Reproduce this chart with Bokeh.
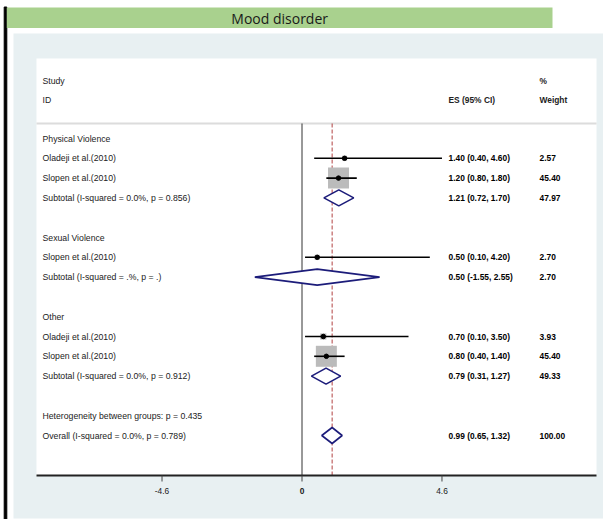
from bokeh.plotting import figure
from bokeh.models import Range1d
from bokeh.core.properties import value
from bokeh.embed import file_html
from bokeh.resources import INLINE

# ---- data ----
title = "Mood disorder"
groups = ["Physical Violence", "Sexual Violence", "Other"]
study_names = ["Oladeji et al.(2010)", "Slopen et al.(2010)",
               "Slopen et al.(2010)",
               "Oladeji et al.(2010)", "Slopen et al.(2010)"]
study_group = [0, 0, 1, 2, 2]
study_es = [1.40, 1.20, 0.50, 0.70, 0.80]
study_lo = [0.40, 0.80, 0.10, 0.10, 0.40]
study_hi = [4.60, 1.80, 4.20, 3.50, 1.40]
study_wt = [2.57, 45.40, 2.70, 3.93, 45.40]

sub_labels = ["Subtotal  (I-squared = 0.0%, p = 0.856)",
              "Subtotal  (I-squared = .%, p = .)",
              "Subtotal  (I-squared = 0.0%, p = 0.912)"]
sub_es = [1.21, 0.50, 0.79]
sub_lo = [0.72, -1.55, 0.31]
sub_hi = [1.70, 2.55, 1.27]
sub_wt = [47.97, 2.70, 49.33]

het_label = "Heterogeneity between groups: p = 0.435"
overall_label = "Overall  (I-squared = 0.0%, p = 0.789)"
overall_es, overall_lo, overall_hi, overall_wt = 0.99, 0.65, 1.32, 100.00

tick_values = [-4.6, 0.0, 4.6]
tick_labels = ["-4.6", "0", "4.6"]

# ---- layout (pixels) ----
W, H = 603, 519
X0_PX, PX_PER_UNIT = 301.5, 30.43      # where ES = 0 sits, and scale
ROW0, ROW_H = 138.0, 19.8              # first table row and row pitch
PANEL_L, PANEL_R, PANEL_T, PANEL_B = 36, 596, 58, 475
SEP_Y = 123
LABEL_X, ES_X, WT_X = 42, 448, 539
FONT = value("Liberation Sans")
FS_LABEL = "8.7px"
FS_VALUE = "8.4px"
TXT = "#222222"


def xd(px):
    """pixel column -> effect-size data units"""
    return (px - X0_PX) / PX_PER_UNIT


def fmt_ci(e, l, h):
    return f"{e:.2f} ({l:.2f}, {h:.2f})"


# build the table rows
rows = []  # (kind, label, es, lo, hi, wt)
for g, gname in enumerate(groups):
    rows.append(("group", gname, None, None, None, None))
    for i, sg in enumerate(study_group):
        if sg == g:
            rows.append(("study", study_names[i], study_es[i], study_lo[i],
                         study_hi[i], study_wt[i]))
    rows.append(("sub", sub_labels[g], sub_es[g], sub_lo[g], sub_hi[g], sub_wt[g]))
    rows.append(("blank", "", None, None, None, None))
rows.append(("group", het_label, None, None, None, None))
rows.append(("overall", overall_label, overall_es, overall_lo, overall_hi, overall_wt))
row_y = [ROW0 + i * ROW_H for i in range(len(rows))]

p = figure(width=W, height=H, x_range=Range1d(xd(0), xd(W)),
           y_range=Range1d(H, 0), x_axis_type=None, y_axis_type=None,
           min_border=0, toolbar_location=None, output_backend="svg")
p.grid.visible = False
p.outline_line_color = None
p.background_fill_color = "white"
p.border_fill_color = "white"

# frame pieces: black rule, title band, grey panel, white plot area
p.quad(left=[xd(3.7)], right=[xd(6.3)], top=[6.5], bottom=[H], color="black")
p.quad(left=[xd(6.3)], right=[xd(552)], top=[7], bottom=[27.5],
       color="#A9D18E", line_color=None)
p.text(x=[xd((6.3 + 552) / 2)], y=[17.5], text=[title], text_font=value("Open Sans"),
       text_font_size="14px", text_align="center", text_baseline="middle",
       text_color="#1a1a1a")
p.quad(left=[xd(13)], right=[xd(603)], top=[33], bottom=[518],
       color="#E8F0F2", line_color=None)
p.quad(left=[xd(PANEL_L)], right=[xd(PANEL_R)], top=[PANEL_T], bottom=[PANEL_B],
       color="white", line_color=None)

# header
p.text(x=[xd(LABEL_X)] * 2, y=[80, 99], text=["Study", "ID"], text_font=FONT,
       text_font_size=FS_LABEL, text_baseline="middle", text_color=TXT)
p.text(x=[xd(WT_X), xd(ES_X), xd(WT_X)], y=[80, 99, 99],
       text=["%", "ES (95% CI)", "Weight"], text_font=FONT, text_font_size=FS_VALUE,
       text_font_style="bold", text_baseline="middle", text_color=TXT)
p.segment(x0=[xd(PANEL_L)], x1=[xd(PANEL_R)], y0=[SEP_Y], y1=[SEP_Y],
          line_color="#DCDCDC", line_width=2)

# reference lines: null effect and overall estimate
p.segment(x0=[0], x1=[0], y0=[SEP_Y], y1=[PANEL_B], line_color="#333333", line_width=1)
p.segment(x0=[overall_es], x1=[overall_es], y0=[SEP_Y], y1=[PANEL_B],
          line_color="#B24040", line_width=1, line_dash="4 2")

# row labels and value columns
lab_x, lab_y, lab_t = [], [], []
val_y, val_t, wt_t = [], [], []
for r, y in zip(rows, row_y):
    kind, label, e, l, h, w = r
    if label:
        lab_x.append(xd(LABEL_X)); lab_y.append(y); lab_t.append(label)
    if e is not None:
        val_y.append(y); val_t.append(fmt_ci(e, l, h)); wt_t.append(f"{w:.2f}")
p.text(x=lab_x, y=lab_y, text=lab_t, text_font=FONT, text_font_size=FS_LABEL,
       text_baseline="middle", text_color=TXT)
p.text(x=[xd(ES_X)] * len(val_y), y=val_y, text=val_t, text_font=FONT,
       text_font_size=FS_VALUE, text_font_style="bold", text_baseline="middle",
       text_color="black")
p.text(x=[xd(WT_X)] * len(val_y), y=val_y, text=wt_t, text_font=FONT,
       text_font_size=FS_VALUE, text_font_style="bold", text_baseline="middle",
       text_color="black")

# studies: weight boxes, CI lines, point estimates
s_es, s_lo, s_hi, s_y, s_size = [], [], [], [], []
d_xs, d_ys = [], []
for r, y in zip(rows, row_y):
    kind, label, e, l, h, w = r
    if kind == "study":
        s_es.append(e); s_lo.append(l); s_hi.append(h); s_y.append(y)
        s_size.append(21.0 * (w / 45.40) ** 0.5)
    elif kind in ("sub", "overall"):
        d_xs.append([l, e, h, e]); d_ys.append([y, y - 8, y, y + 8])
p.scatter(x=s_es, y=s_y, size=s_size, marker="square", fill_color="#BBBBBB",
          line_color=None)
p.segment(x0=s_lo, x1=s_hi, y0=s_y, y1=s_y, line_color="black", line_width=1.6)
p.scatter(x=s_es, y=s_y, size=4.5, marker="circle", color="black")

# pooled estimates as diamonds
p.patches(xs=d_xs, ys=d_ys, fill_color="white", line_color="#1C1C7A", line_width=1.6)

# x axis
p.segment(x0=[xd(PANEL_L)], x1=[xd(PANEL_R)], y0=[PANEL_B], y1=[PANEL_B],
          line_color="#222222", line_width=2)
p.segment(x0=tick_values, x1=tick_values, y0=[PANEL_B] * 3, y1=[PANEL_B + 6] * 3,
          line_color="#444444", line_width=1)
for tv, tl in zip(tick_values, tick_labels):
    p.text(x=[tv], y=[490], text=[tl], text_font=FONT, text_font_size=FS_VALUE,
           text_font_style="bold" if tv == 0 else "normal",
           text_align="center", text_baseline="middle", text_color=TXT)

open("out.html", "w").write(file_html(p, INLINE))
